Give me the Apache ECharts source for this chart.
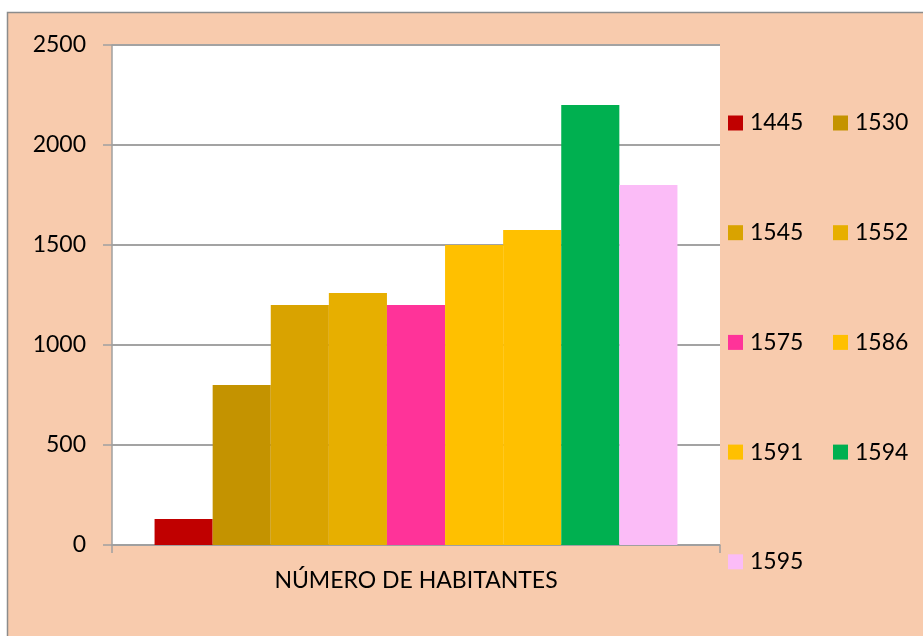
<!DOCTYPE html>
<html lang="es">
<head>
    <meta charset="UTF-8">
    <title>Número de habitantes</title>
    <script src="https://cdn.jsdelivr.net/npm/echarts@6/dist/echarts.min.js"></script>
    <style>
        html, body { margin: 0; padding: 0; background: #fff; }
        #main { width: 923px; height: 636px; }
    </style>
</head>
<body>
<div id="main"></div>
<script type="application/javascript">
    // datos del gráfico
    var categorias = ['NÚMERO DE HABITANTES'];
    var anios = ['1445', '1530', '1545', '1552', '1575', '1586', '1591', '1594', '1595'];
    var habitantes = [130, 800, 1200, 1260, 1200, 1500, 1575, 2200, 1800];
    var colores = ['#C00000', '#C49300', '#D9A300', '#E7AF00', '#FF3399', '#FFC000', '#FFC000', '#00B050', '#FBBCF7'];
    var ticksY = [0, 500, 1000, 1500, 2000, 2500];

    var fuente = 'Lato';
    var gris = '#A0A0A0';

    var myChart = echarts.init(document.getElementById('main'));

    var series = anios.map(function (a, i) {
        return {
            name: a,
            type: 'bar',
            data: [habitantes[i]],
            barGap: '0%',
            barCategoryGap: '14%',
            itemStyle: { color: colores[i] }
        };
    });

    // leyenda en dos columnas
    var col1 = anios.filter(function (a, i) { return i % 2 === 0; });
    var col2 = anios.filter(function (a, i) { return i % 2 === 1; });
    function leyenda(datos, izq) {
        return {
            data: datos,
            orient: 'vertical',
            left: izq,
            top: 110,
            padding: 0,
            itemWidth: 15,
            itemHeight: 15,
            itemGap: 83.7,
            icon: 'rect',
            textStyle: { fontFamily: fuente, fontSize: 23, color: '#000', lineHeight: 26, padding: [0, 0, 0, 2] }
        };
    }

    var option = {
        backgroundColor: '#fff',
        animation: false,
        graphic: [{
            type: 'rect',
            z: -10,
            shape: { x: 7.5, y: 12.5, width: 930, height: 640 },
            style: { fill: '#F8CBAD', stroke: '#8C8C8C', lineWidth: 1.5 }
        }],
        legend: [leyenda(col1, 728), leyenda(col2, 833)],
        grid: {
            left: 112,
            top: 45,
            right: 203,
            bottom: 91,
            show: true,
            backgroundColor: '#fff',
            borderWidth: 0
        },
        xAxis: {
            type: 'category',
            data: categorias,
            axisLine: { lineStyle: { color: gris, width: 1.5 } },
            axisTick: { show: true, length: 8, lineStyle: { color: gris, width: 1.5 } },
            axisLabel: { fontFamily: fuente, fontSize: 23, color: '#000', margin: 24 }
        },
        yAxis: {
            type: 'value',
            min: ticksY[0],
            max: ticksY[ticksY.length - 1],
            interval: 500,
            axisLine: { show: true, lineStyle: { color: gris, width: 1.5 } },
            axisTick: { show: true, length: 9, lineStyle: { color: gris, width: 1.5 } },
            axisLabel: {
                fontFamily: fuente, fontSize: 23, color: '#000', margin: 26,
                formatter: function (v) { return String(v); }
            },
            splitLine: { lineStyle: { color: '#A3A3A3', width: 2 } }
        },
        series: series
    };

    myChart.setOption(option);
</script>
</body>
</html>
